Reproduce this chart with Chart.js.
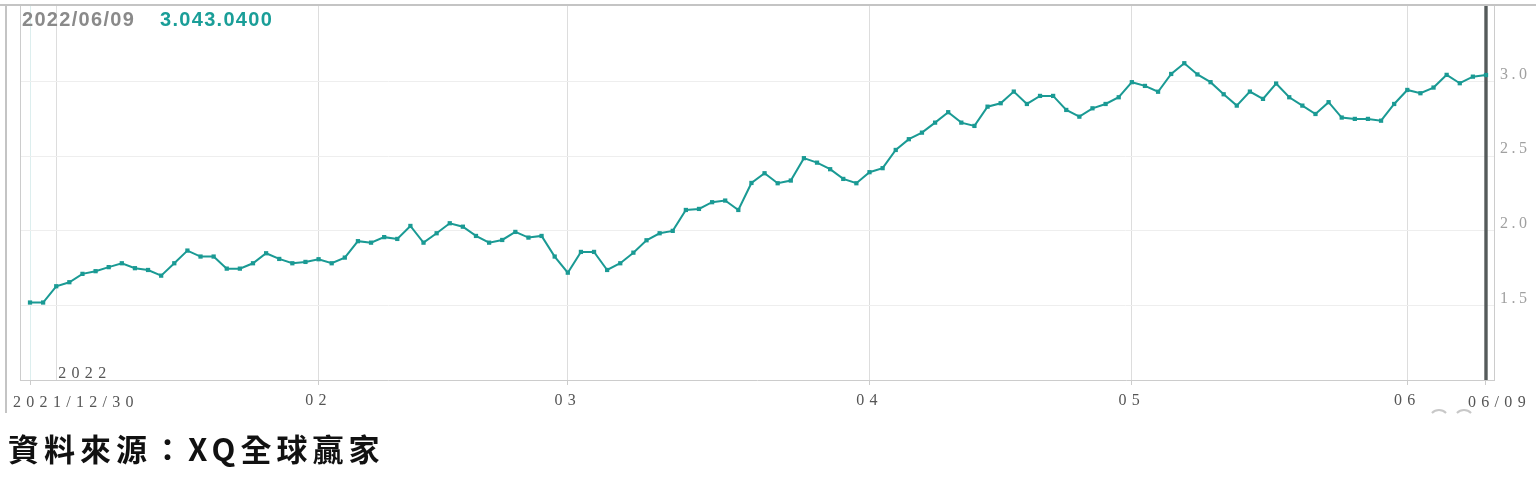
<!DOCTYPE html>
<html>
<head>
<meta charset="utf-8">
<script src="https://cdn.jsdelivr.net/npm/chart.js@4.4.1/dist/chart.umd.min.js"></script>
<style>
html,body{margin:0;padding:0;background:#fff;}
canvas{display:block;}
</style>
</head>
<body>
<canvas id="c" width="1536" height="481"></canvas>
<script>
// ---- data ----
const dates = [
  '2021/12/30','2021/12/31',
  '2022/01/03','2022/01/04','2022/01/05','2022/01/06','2022/01/07','2022/01/10','2022/01/11','2022/01/12','2022/01/13','2022/01/14',
  '2022/01/18','2022/01/19','2022/01/20','2022/01/21','2022/01/24','2022/01/25','2022/01/26','2022/01/27','2022/01/28','2022/01/31',
  '2022/02/01','2022/02/02','2022/02/03','2022/02/04','2022/02/07','2022/02/08','2022/02/09','2022/02/10','2022/02/11','2022/02/14',
  '2022/02/15','2022/02/16','2022/02/17','2022/02/18','2022/02/22','2022/02/23','2022/02/24','2022/02/25','2022/02/28',
  '2022/03/01','2022/03/02','2022/03/03','2022/03/04','2022/03/07','2022/03/08','2022/03/09','2022/03/10','2022/03/11','2022/03/14',
  '2022/03/15','2022/03/16','2022/03/17','2022/03/18','2022/03/21','2022/03/22','2022/03/23','2022/03/24','2022/03/25','2022/03/28',
  '2022/03/29','2022/03/30','2022/03/31',
  '2022/04/01','2022/04/04','2022/04/05','2022/04/06','2022/04/07','2022/04/08','2022/04/11','2022/04/12','2022/04/13','2022/04/14',
  '2022/04/18','2022/04/19','2022/04/20','2022/04/21','2022/04/22','2022/04/25','2022/04/26','2022/04/27','2022/04/28','2022/04/29',
  '2022/05/02','2022/05/03','2022/05/04','2022/05/05','2022/05/06','2022/05/09','2022/05/10','2022/05/11','2022/05/12','2022/05/13',
  '2022/05/16','2022/05/17','2022/05/18','2022/05/19','2022/05/20','2022/05/23','2022/05/24','2022/05/25','2022/05/26','2022/05/27','2022/05/31',
  '2022/06/01','2022/06/02','2022/06/03','2022/06/06','2022/06/07','2022/06/08','2022/06/09'
];
const values = [
  1.519,1.519,
  1.628,1.655,1.711,1.729,1.756,1.782,1.749,1.737,1.699,1.782,
  1.867,1.827,1.827,1.746,1.746,1.782,1.849,1.811,1.782,1.791,
  1.809,1.782,1.820,1.930,1.920,1.957,1.945,2.032,1.920,1.983,
  2.050,2.027,1.965,1.920,1.938,1.992,1.954,1.965,1.827,
  1.719,1.858,1.858,1.737,1.782,1.853,1.936,1.983,1.999,2.139,
  2.146,2.191,2.202,2.139,2.320,2.385,2.318,2.336,2.486,2.456,
  2.412,2.347,2.318,
  2.392,2.419,2.541,2.613,2.657,2.724,2.794,2.724,2.702,2.831,
  2.854,2.932,2.849,2.903,2.903,2.809,2.764,2.820,2.849,2.894,
  2.995,2.970,2.931,3.050,3.122,3.047,2.995,2.914,2.838,2.932,
  2.883,2.986,2.894,2.838,2.782,2.861,2.758,2.749,2.749,2.737,2.849,
  2.943,2.921,2.959,3.044,2.988,3.032,3.043
];
const yTicks = [1.5, 2.0, 2.5, 3.0];
const headerDate = '2022/06/09';
const headerValue = '3.043.0400';
const sourceText = '資料來源：XQ全球贏家';

// ---- derived tick positions from the dates ----
const lastIdx = dates.length - 1;
const monthStarts = [];
let yearStart = -1;
for (let i = 1; i < dates.length; i++) {
  if (dates[i].slice(0,4) !== dates[i-1].slice(0,4)) yearStart = i;
  else if (dates[i].slice(5,7) !== dates[i-1].slice(5,7)) monthStarts.push(i);
}
const xTickIdx = [0].concat(yearStart >= 0 ? [yearStart] : [], monthStarts, [lastIdx]);

const TEAL = '#1a9a94';
const SERIF = '"Liberation Serif", "DejaVu Serif", serif';

const decor = {
  id: 'decor',
  afterLayout(chart) {
    const ys = chart.scales.y;
    if (ys && !ys._lsWrapped) {
      const orig = ys.drawLabels;
      ys.drawLabels = function (ca) {
        const ctx = this.ctx;
        const prev = ctx.letterSpacing;
        ctx.letterSpacing = '3.5px';
        orig.call(this, ca);
        ctx.letterSpacing = prev;
      };
      ys._lsWrapped = true;
    }
  },
  beforeDraw(chart) {
    const ctx = chart.ctx;
    ctx.save();
    ctx.fillStyle = '#fff';
    ctx.fillRect(0, 0, chart.width, chart.height);
    ctx.restore();
    ctx.letterSpacing = '5.3px';
  },
  beforeDatasetsDraw(chart) {
    const ctx = chart.ctx, a = chart.chartArea, xs = chart.scales.x;
    ctx.save();
    const xl = xs.getPixelForValue(lastIdx);
    ctx.strokeStyle = '#555b5b';
    ctx.lineWidth = 3.4;
    ctx.beginPath(); ctx.moveTo(xl, a.top); ctx.lineTo(xl, a.bottom); ctx.stroke();
    ctx.restore();
  },
  afterDraw(chart) {
    const ctx = chart.ctx, a = chart.chartArea, xs = chart.scales.x;
    ctx.save();
    // frame
    ctx.strokeStyle = '#cccccc';
    ctx.lineWidth = 1;
    ctx.beginPath(); ctx.moveTo(a.left + 0.5, a.top); ctx.lineTo(a.left + 0.5, a.bottom); ctx.stroke();
    ctx.strokeStyle = '#c4c4c4';
    ctx.lineWidth = 2;
    ctx.beginPath(); ctx.moveTo(0, 5); ctx.lineTo(chart.width, 5); ctx.stroke();
    ctx.beginPath(); ctx.moveTo(6, 5); ctx.lineTo(6, 413); ctx.stroke();

    // end labels of x axis
    ctx.letterSpacing = '5.3px';
    ctx.font = '16px ' + SERIF;
    ctx.fillStyle = '#555';
    ctx.textAlign = 'left';
    ctx.textBaseline = 'middle';
    const x0 = xs.getPixelForValue(0);
    ctx.fillText(dates[0], x0 - 17, 403);
    const xe = xs.getPixelForValue(lastIdx);
    ctx.fillText(dates[lastIdx].slice(5), xe - 18, 403);
    if (yearStart >= 0) {
      ctx.textBaseline = 'alphabetic';
      ctx.fillText(dates[yearStart].slice(0,4), xs.getPixelForValue(yearStart) + 2, 378);
    }

    // faint arcs bottom right
    ctx.strokeStyle = '#c8c8c8';
    ctx.lineWidth = 2;
    ctx.beginPath(); ctx.arc(1439, 420, 10, Math.PI * 1.25, Math.PI * 1.75); ctx.stroke();
    ctx.beginPath(); ctx.arc(1464, 420, 10, Math.PI * 1.25, Math.PI * 1.75); ctx.stroke();

    // header
    ctx.letterSpacing = '1.3px';
    ctx.font = 'bold 20px "Liberation Sans", Arial, sans-serif';
    ctx.textBaseline = 'alphabetic';
    ctx.fillStyle = '#8a8a8a';
    ctx.fillText(headerDate, 22, 26);
    ctx.fillStyle = '#1a9e98';
    ctx.fillText(headerValue, 160, 26);

    // source
    ctx.letterSpacing = '5px';
    ctx.font = '700 31px "Noto Sans CJK TC", "Noto Sans CJK SC", sans-serif';
    ctx.fillStyle = '#111';
    ctx.textBaseline = 'middle';
    ctx.fillText(sourceText, 8, 449);
    ctx.restore();
    ctx.letterSpacing = '0px';
  }
};

new Chart(document.getElementById('c'), {
  type: 'line',
  data: {
    datasets: [{
      data: values.map((v, i) => ({ x: i, y: v })),
      borderColor: TEAL,
      backgroundColor: TEAL,
      borderWidth: 2,
      pointStyle: 'rect',
      pointRadius: 3,
      pointBorderWidth: 0,
      pointBackgroundColor: TEAL,
      tension: 0,
      fill: false
    }]
  },
  options: {
    responsive: false,
    animation: false,
    devicePixelRatio: 1,
    layout: { padding: { left: 20, top: 5, right: 0, bottom: 0 } },
    plugins: { legend: { display: false }, tooltip: { enabled: false } },
    scales: {
      x: {
        type: 'linear',
        min: -0.7624,
        max: 111.61,
        afterBuildTicks(scale) { scale.ticks = xTickIdx.map(v => ({ value: v })); },
        afterFit(scale) { scale.height = 101; scale.paddingLeft = 0; scale.paddingRight = 0; },
        ticks: {
          autoSkip: false,
          maxRotation: 0,
          padding: 6,
          color: '#555',
          font: { family: SERIF, size: 16 },
          callback(v) {
            return monthStarts.includes(v) ? dates[v].slice(5,7) : '';
          }
        },
        grid: {
          tickLength: 5,
          color(c) {
            const v = c.tick ? c.tick.value : null;
            if (v === 0) return '#dceeee';
            if (v === lastIdx) return 'rgba(0,0,0,0)';
            return '#dddddd';
          },
          tickColor(c) {
            const v = c.tick ? c.tick.value : null;
            if (v === yearStart) return 'rgba(0,0,0,0)';
            return '#cccccc';
          }
        },
        border: { display: true, color: '#cccccc' }
      },
      y: {
        position: 'right',
        min: 1.0,
        max: 3.512,
        afterBuildTicks(scale) { scale.ticks = yTicks.map(v => ({ value: v })); },
        afterFit(scale) { scale.width = 42; scale.paddingTop = 0; scale.paddingBottom = 0; },
        ticks: {
          padding: 6,
          labelOffset: -7,
          color: '#a0a0a0',
          font: { family: SERIF, size: 16 },
          callback(v) { return v.toFixed(1); }
        },
        grid: { color: '#eeeeee', drawTicks: false },
        border: { display: true, color: '#cccccc' }
      }
    }
  },
  plugins: [decor]
});
</script>
</body>
</html>
